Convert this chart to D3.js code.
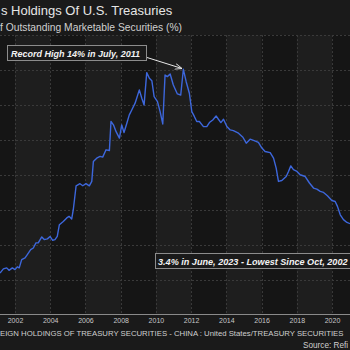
<!DOCTYPE html>
<html>
<head>
<meta charset="utf-8">
<script src="https://cdn.jsdelivr.net/npm/d3@7/dist/d3.min.js"></script>
<style>
  body { margin: 0; background: #1a1a1a; }
  svg { display: block; }
</style>
</head>
<body>
<div id="grapheChine"></div>
<script>
// China share of outstanding marketable US treasuries (%)
var dates = [2001.15, 2001.34, 2001.53, 2001.66, 2001.85, 2002.00, 2002.13, 2002.24, 2002.38, 2002.57,
  2002.70, 2002.89, 2003.04, 2003.19, 2003.32, 2003.52, 2003.66, 2003.84, 2003.99, 2004.14,
  2004.27, 2004.40, 2004.52, 2004.74, 2004.94, 2005.07, 2005.22, 2005.31, 2005.47, 2005.69,
  2005.85, 2006.03, 2006.22, 2006.36, 2006.45, 2006.64, 2006.83, 2006.98, 2007.17, 2007.36,
  2007.45, 2007.59, 2007.74, 2007.93, 2008.06, 2008.19, 2008.35, 2008.49, 2008.63, 2008.82,
  2009.06, 2009.20, 2009.33, 2009.48, 2009.63, 2009.77, 2009.90, 2010.09, 2010.24, 2010.39,
  2010.52, 2010.65, 2010.81, 2010.99, 2011.22, 2011.41, 2011.56, 2011.72, 2011.90, 2012.04,
  2012.17, 2012.32, 2012.47, 2012.70, 2012.89, 2013.04, 2013.23, 2013.42, 2013.55, 2013.69,
  2013.84, 2014.03, 2014.22, 2014.40, 2014.69, 2014.94, 2015.13, 2015.35, 2015.58, 2015.82,
  2016.02, 2016.20, 2016.49, 2016.68, 2016.83, 2016.96, 2017.15, 2017.40, 2017.53, 2017.66,
  2017.81, 2018.01, 2018.19, 2018.48, 2018.72, 2018.95, 2019.14, 2019.33, 2019.52, 2019.74,
  2019.99, 2020.18, 2020.31, 2020.47, 2020.65, 2020.85, 2021.03];

var shares = [2.38, 2.61, 2.67, 2.53, 2.67, 2.57, 2.73, 2.67, 3.14, 3.24,
  3.43, 3.71, 3.81, 4.10, 4.10, 4.44, 4.29, 4.33, 4.47, 4.25,
  4.29, 4.47, 5.14, 5.33, 5.53, 5.62, 5.47, 6.00, 7.37, 7.49,
  7.37, 7.49, 7.37, 7.62, 8.76, 8.95, 9.05, 9.01, 9.43, 9.39,
  11.05, 10.86, 10.47, 10.10, 10.86, 10.42, 10.95, 11.43, 11.71, 12.10,
  12.86, 12.38, 12.00, 13.85, 13.53, 13.39, 12.47, 12.19, 11.62, 10.91,
  13.71, 13.62, 13.77, 13.14, 12.63, 12.57, 14.04, 13.33, 12.67, 11.62,
  11.37, 11.05, 11.05, 10.76, 10.76, 10.99, 11.14, 11.37, 11.18, 10.99,
  11.18, 10.76, 10.57, 10.53, 10.38, 10.15, 9.81, 10.04, 9.96, 9.85,
  9.53, 9.33, 9.27, 8.95, 8.38, 7.62, 7.67, 7.90, 8.19, 8.51,
  8.29, 8.19, 8.00, 7.90, 7.53, 7.24, 7.18, 7.05, 6.99, 6.80,
  6.53, 6.47, 6.19, 5.71, 5.43, 5.27, 5.20];

var yearTicks = [2002, 2004, 2006, 2008, 2010, 2012, 2014, 2016, 2018, 2020];
var shareTicks = [2, 4, 6, 8, 10, 12, 14, 16];
var bandStarts = [2002, 2006, 2010, 2014, 2018];

var peakDate = 2011.56, peakShare = 14.04;

var w = 350;
var h = 350;

var svg = d3.select("#grapheChine")
  .append("svg")
  .attr("width", w)
  .attr("height", h)
  .style("font-family", "'Liberation Sans', Arial, sans-serif");

var x = d3.scaleLinear().domain([2002, 2020]).range([15, 332]);
var y = d3.scaleLinear().domain([0, 14]).range([314.5, 70]);
var plotTop = y(16);

// fond
svg.append("rect").attr("width", w).attr("height", h).attr("fill", "#1a1a1a");
svg.append("rect")
  .attr("x", 0).attr("y", plotTop)
  .attr("width", w).attr("height", y(0) - plotTop)
  .attr("fill", "#151515");
svg.selectAll("rect.band")
  .data(bandStarts)
  .enter()
  .append("rect")
    .attr("class", "band")
    .attr("x", d => x(d))
    .attr("y", plotTop)
    .attr("width", d => x(d + 2) - x(d))
    .attr("height", y(0) - plotTop)
    .attr("fill", "#1e1e1e");

// grille
svg.append("g")
  .selectAll("line")
  .data(shareTicks)
  .enter()
  .append("line")
    .attr("x1", 0).attr("x2", w)
    .attr("y1", d => Math.round(y(d)) + 0.5)
    .attr("y2", d => Math.round(y(d)) + 0.5)
    .attr("stroke", "#3a3a3a")
    .attr("stroke-dasharray", "2,2");

svg.append("g")
  .selectAll("line")
  .data(yearTicks.concat([2000, 2022]))
  .enter()
  .append("line")
    .attr("x1", d => Math.round(x(d)) + 0.5)
    .attr("x2", d => Math.round(x(d)) + 0.5)
    .attr("y1", plotTop).attr("y2", y(0))
    .attr("stroke", "#3a3a3a")
    .attr("stroke-dasharray", "2,2");

// axe x
var xAxis = svg.append("g")
  .attr("transform", `translate(0,${y(0)})`)
  .call(d3.axisBottom(x).tickValues(yearTicks).tickFormat(d3.format("d")).tickSize(0).tickPadding(4));
xAxis.select(".domain").attr("stroke", "#8a8a8a").attr("d", `M0,0H${w}`);
xAxis.selectAll("text")
  .attr("fill", "#c8c8c8")
  .attr("font-size", 7)
  .attr("font-family", "'Liberation Sans', Arial, sans-serif");

// courbe
var points = dates.map((d, i) => [d, shares[i]]);
svg.append("path")
  .datum(points)
  .attr("fill", "none")
  .attr("stroke", "#3d67dc")
  .attr("stroke-width", 1.4)
  .attr("stroke-linejoin", "round")
  .attr("d", d3.line().x(d => x(d[0])).y(d => y(d[1])));

// titres
svg.append("text")
  .attr("x", 1).attr("y", 15)
  .attr("fill", "#e6e6e6")
  .attr("font-size", 13)
  .text("s Holdings Of U.S. Treasuries");

svg.append("text")
  .attr("x", 0).attr("y", 31)
  .attr("fill", "#d0d0d0")
  .attr("font-size", 10.3)
  .text("f Outstanding Marketable Securities (%)");

// annotations
svg.append("defs").append("marker")
  .attr("id", "fleche")
  .attr("viewBox", "0 0 10 10")
  .attr("refX", 9).attr("refY", 5)
  .attr("markerWidth", 7).attr("markerHeight", 7)
  .attr("orient", "auto")
  .append("path")
    .attr("d", "M0,1L10,5L0,9")
    .attr("fill", "none")
    .attr("stroke", "#e8e8e8")
    .attr("stroke-width", 1.3);

svg.append("line")
  .attr("x1", 147).attr("y1", 57.5)
  .attr("x2", x(peakDate) - 2).attr("y2", y(peakShare) - 1)
  .attr("stroke", "#e8e8e8")
  .attr("stroke-width", 1)
  .attr("marker-end", "url(#fleche)");

svg.append("rect")
  .attr("x", 7.5).attr("y", 45.5).attr("width", 139).attr("height", 15)
  .attr("fill", "#1a1a1a")
  .attr("stroke", "#8c8c8c");
svg.append("text")
  .attr("x", 11).attr("y", 56.5)
  .attr("fill", "#f2f2f2")
  .attr("font-size", 9)
  .attr("font-weight", "bold")
  .attr("font-style", "italic")
  .text("Record High 14% in July, 2011");

svg.append("rect")
  .attr("x", 155.5).attr("y", 253.5).attr("width", 210).attr("height", 15)
  .attr("fill", "#1a1a1a")
  .attr("stroke", "#8c8c8c");
svg.append("text")
  .attr("x", 158).attr("y", 264.5)
  .attr("fill", "#f2f2f2")
  .attr("font-size", 9.1)
  .attr("font-weight", "bold")
  .attr("font-style", "italic")
  .text("3.4% in June, 2023 - Lowest Since Oct, 2002");

// bas de page
svg.append("text")
  .attr("x", 0).attr("y", 336)
  .attr("fill", "#cfcfcf")
  .attr("font-size", 7.75)
  .text("EIGN HOLDINGS OF TREASURY SECURITIES - CHINA : United States/TREASURY SECURITIES");

svg.append("text")
  .attr("x", 303).attr("y", 347.5)
  .attr("fill", "#cfcfcf")
  .attr("font-size", 8.2)
  .text("Source: Refi");
</script>
</body>
</html>
